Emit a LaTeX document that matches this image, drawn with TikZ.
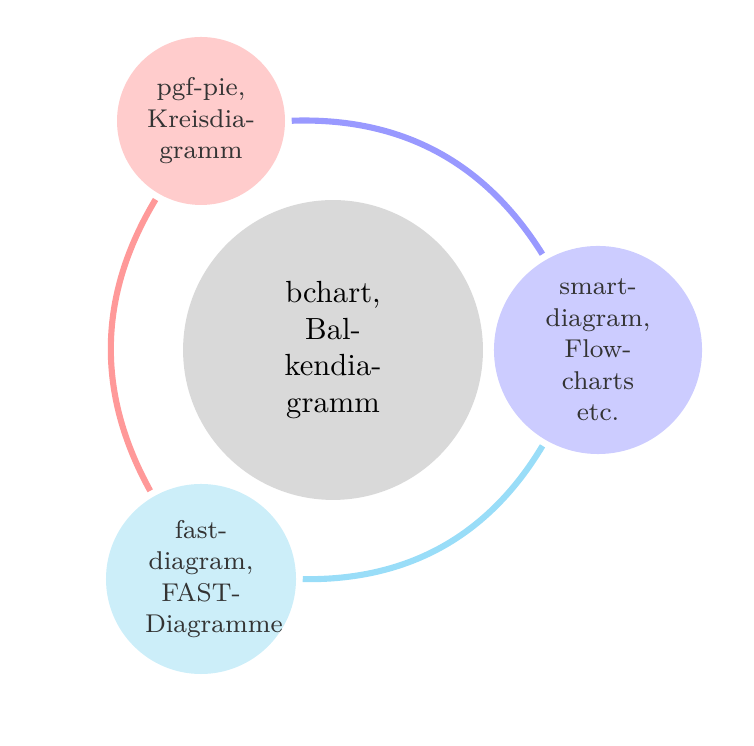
\documentclass[tikz,border=0pt]{standalone}
\usepackage{xcolor}
\definecolor{hubFill}{HTML}{D9D9D9}
\definecolor{pieFill}{HTML}{FFCCCC}
\definecolor{pieLine}{HTML}{FF9999}
\definecolor{flowFill}{HTML}{CCCCFF}
\definecolor{flowLine}{HTML}{9999FF}
\definecolor{fastFill}{HTML}{CCEEF9}
\definecolor{fastLine}{HTML}{99DDF8}
\definecolor{ink}{HTML}{333333}

\begin{document}
\begin{tikzpicture}[
    x=0.3268pt, y=0.3268pt,
    hub/.style={circle, fill=hubFill, inner sep=0pt, minimum size=98pt, align=center, font=\normalsize},
    sat/.style={circle, inner sep=0pt, text width=36.6pt, align=center, font=\fontsize{8.4}{10.3}\selectfont, text=ink},
    link/.style={line width=2pt, shorten <=2pt, shorten >=2pt}
]

% Frame of the picture (1 unit = 1 px of the reference).
\useasboundingbox (0,0) rectangle (754,745);

% Centre module.
\node[hub] (bchart) at (333,395) {bchart,\\Bal-\\kendia-\\gramm};

% Satellites on a ring round the centre.
\node[sat, fill=pieFill, minimum size=54.9pt] (pie) at (201,624) {pgf-pie,\\Kreisdia-\\gramm};
\node[sat, fill=flowFill, minimum size=68pt] (flow) at (598,395) {smart-\\diagram,\\Flow-\\charts\\etc.};
\node[sat, fill=fastFill, minimum size=62.1pt] (fast) at (201,166) {fast-\\diagram,\\FAST-\\Diagramme};

% Links, coloured after the module they reach.
\draw[link, flowLine] (pie) to[bend left=30] (flow);
\draw[link, fastLine] (flow) to[bend left=30] (fast);
\draw[link, pieLine] (fast) to[bend left=30] (pie);

\end{tikzpicture}
\end{document}
